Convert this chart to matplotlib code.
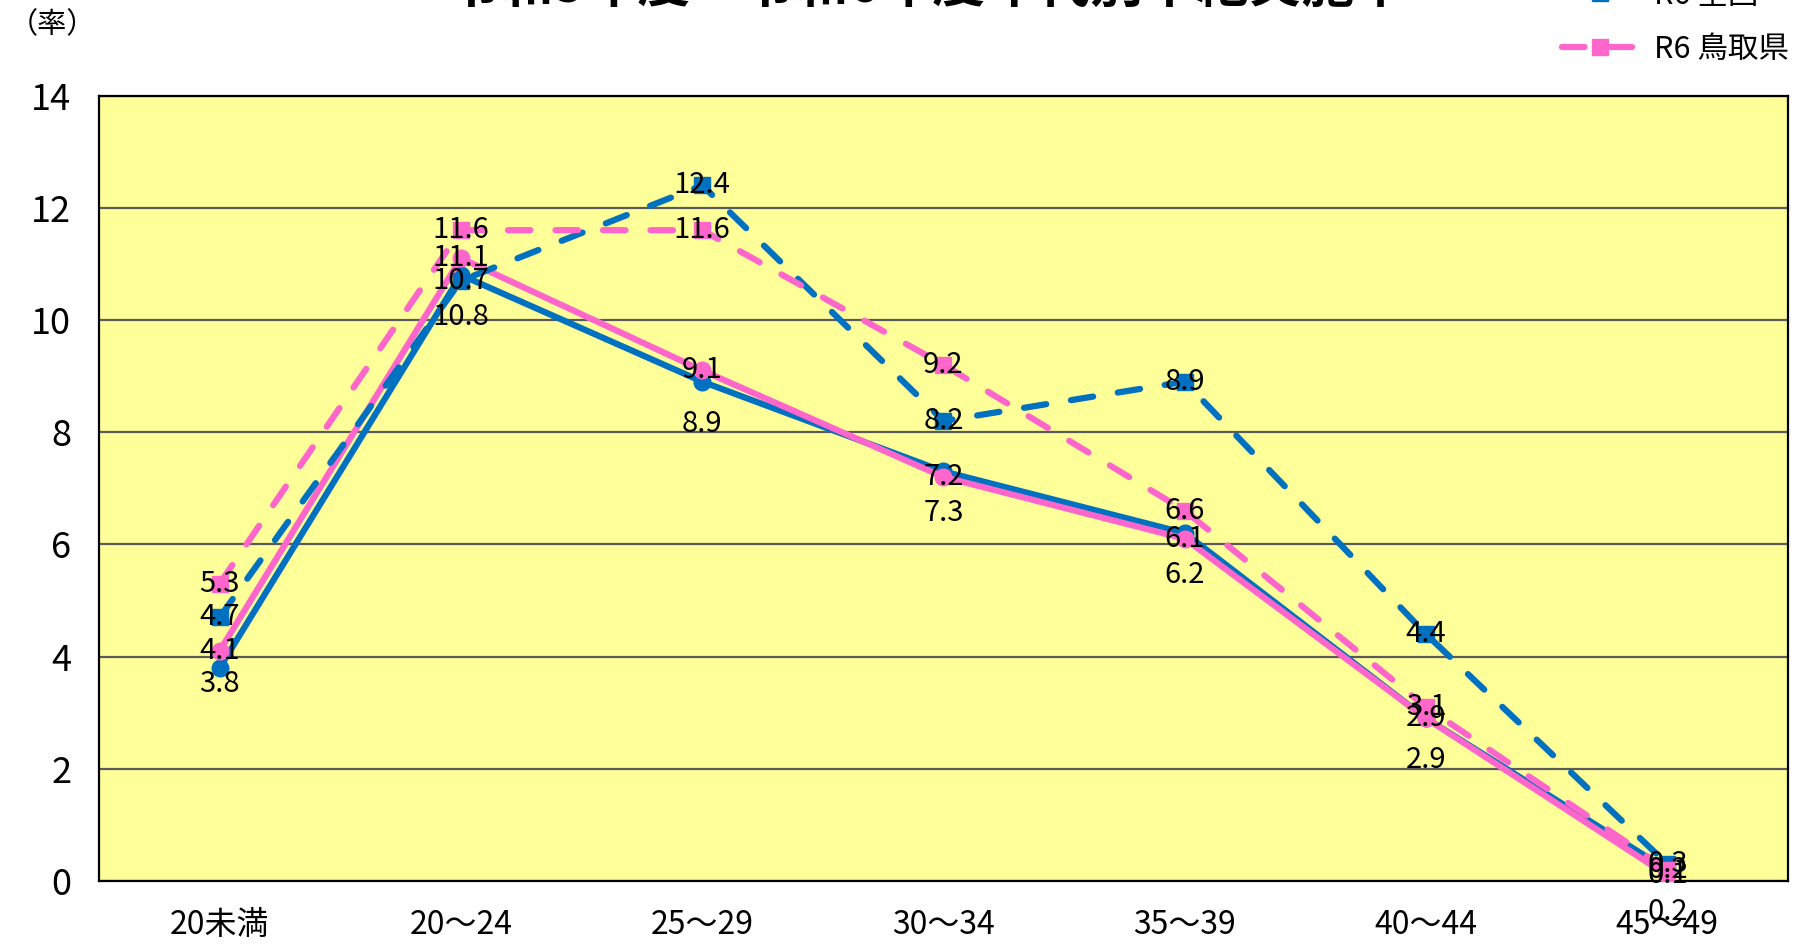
import numpy as np
import matplotlib
matplotlib.use("Agg")
import matplotlib.pyplot as plt

plt.rcParams['font.family'] = ['Noto Sans CJK JP', 'DejaVu Sans']

# data
ages = ['20未満', '20～24', '25～29', '30～34', '35～39', '40～44', '45～49']
r5_zenkoku = [3.8, 10.8, 8.9, 7.3, 6.2, 2.9, 0.2]
r5_tottori = [4.1, 11.1, 9.1, 7.2, 6.1, 2.9, 0.1]
r6_zenkoku = [4.7, 10.7, 12.4, 8.2, 8.9, 4.4, 0.3]
r6_tottori = [5.3, 11.6, 11.6, 9.2, 6.6, 3.1, 0.2]
names = ['R5 全国', 'R5 鳥取県', 'R6 全国', 'R6 鳥取県']

blue = '#0070C0'
pink = '#FF66CC'

fig = plt.figure(figsize=(18.05, 9.44), dpi=100)
ax = fig.add_axes([99/1805, 1-881/944, (1788-99)/1805, (881-95.5)/944])
ax.set_facecolor('#FFFF99')

x = np.arange(len(ages))
lw = 4.5
l1, = ax.plot(x, r5_zenkoku, color=blue, lw=lw, marker='o', ms=12, zorder=3)
l2, = ax.plot(x, r5_tottori, color=pink, lw=lw, marker='o', ms=12, zorder=4)
l3, = ax.plot(x, r6_zenkoku, color=blue, lw=lw, marker='s', ms=12, zorder=5,
              dashes=(3.6, 4), dash_capstyle='round')
l4, = ax.plot(x, r6_tottori, color=pink, lw=lw, marker='s', ms=12, zorder=6,
              dashes=(3.6, 4), dash_capstyle='round')

# data labels
lab = dict(fontsize=21, ha='center', va='center', zorder=10, textcoords='offset pixels')
for i in range(len(ages)):
    off = 42 if i else 16
    ax.annotate(f'{r5_zenkoku[i]:.1f}', (x[i], r5_zenkoku[i]), xytext=(0, -off), **lab)
    ax.annotate(f'{r5_tottori[i]:.1f}', (x[i], r5_tottori[i]), xytext=(0, 0), **lab)
    ax.annotate(f'{r6_zenkoku[i]:.1f}', (x[i], r6_zenkoku[i]), xytext=(0, 0), **lab)
    ax.annotate(f'{r6_tottori[i]:.1f}', (x[i], r6_tottori[i]), xytext=(0, 0), **lab)

ax.set_xlim(-0.5, len(ages) - 0.5)
ax.set_ylim(0, 14)
ax.set_yticks(range(0, 15, 2))
ax.set_xticks(x)
ax.set_xticklabels(ages, fontsize=23)
ax.tick_params(axis='y', labelsize=26, length=0, pad=20)
ax.tick_params(axis='x', length=0, pad=20)
ax.yaxis.grid(True, color='#5a5a5a', lw=1.6)
ax.set_axisbelow(True)
for s in ax.spines.values():
    s.set_color('black')
    s.set_linewidth(1.6)

fig.text(9/1805, 1-25/944, '（率）', fontsize=21, ha='left', va='center')
fig.text(928/1805, 1-13/944, '令和5年度・令和6年度年代別中絶実施率', fontsize=38,
         fontweight='bold', ha='center', va='bottom')

fig.legend([l1, l2, l3, l4], names, loc='lower right',
           bbox_to_anchor=(1804/1805, 1-80/944),
           frameon=False, fontsize=22, handlelength=2.5, handletextpad=0.5,
           borderpad=0, labelspacing=0.75)

fig.savefig('out.png', dpi=100, facecolor='white')
